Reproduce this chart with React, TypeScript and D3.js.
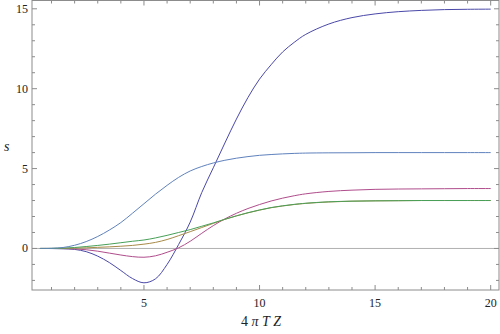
import React from "react";
import * as d3 from "d3";

const xs = [0.5, 1, 1.5, 2, 2.5, 3, 3.5, 4, 4.5, 5, 5.5, 6, 6.5, 7, 7.5, 8, 8.5, 9, 9.5, 10, 10.5, 11, 11.5, 12, 13, 14, 15, 16, 17, 18, 19, 20];

const darkBlue = [0, -0.005, -0.02, -0.06, -0.2, -0.48, -0.88, -1.38, -1.88, -2.15, -1.9, -1.0, 0.25, 1.65, 3.5, 5.05, 6.6, 8.1, 9.45, 10.6, 11.5, 12.3, 12.9, 13.4, 14.05, 14.45, 14.68, 14.82, 14.9, 14.95, 14.97, 14.98];
const magenta = [0, -0.002, -0.008, -0.025, -0.08, -0.17, -0.29, -0.41, -0.51, -0.55, -0.46, -0.24, 0.04, 0.45, 0.95, 1.43, 1.85, 2.2, 2.5, 2.75, 2.97, 3.15, 3.3, 3.42, 3.57, 3.65, 3.7, 3.72, 3.73, 3.74, 3.75, 3.75];
const yellow = [0, 0.002, 0.008, 0.02, 0.04, 0.07, 0.1, 0.14, 0.19, 0.27, 0.38, 0.56, 0.8, 1.05, 1.31, 1.57, 1.82, 2.04, 2.23, 2.4, 2.55, 2.66, 2.75, 2.82, 2.91, 2.96, 2.98, 2.99, 3.0, 3.0, 3.0, 3.0];
const green = [0, 0.005, 0.02, 0.06, 0.12, 0.19, 0.27, 0.36, 0.45, 0.53, 0.66, 0.82, 1.0, 1.18, 1.39, 1.6, 1.83, 2.04, 2.24, 2.41, 2.56, 2.67, 2.76, 2.83, 2.92, 2.96, 2.98, 2.99, 3.0, 3.0, 3.0, 3.0];
const steelBlue = [0, 0.01, 0.06, 0.2, 0.43, 0.75, 1.15, 1.62, 2.2, 2.8, 3.4, 3.95, 4.45, 4.85, 5.13, 5.35, 5.52, 5.65, 5.75, 5.83, 5.88, 5.92, 5.95, 5.97, 5.985, 5.99, 6.0, 6.0, 6.0, 6.0, 6.0, 6.0];

const seriesList = [
  { name: "a", values: darkBlue, color: "#4a48a8" },
  { name: "b", values: magenta, color: "#b04d8c" },
  { name: "c", values: yellow, color: "#a88a48" },
  { name: "d", values: green, color: "#48a058" },
  { name: "e", values: steelBlue, color: "#5f82bd" },
];

const xMajor = [5, 10, 15, 20];
const xMinor = [1, 2, 3, 4, 6, 7, 8, 9, 11, 12, 13, 14, 16, 17, 18, 19];
const yMajor = [0, 5, 10, 15];
const yMinor = [-2, -1, 1, 2, 3, 4, 6, 7, 8, 9, 11, 12, 13, 14];

const W = 500;
const H = 334;
const L = 32, R = 499, T = 0.5, B = 290;

export default function App() {
  const x = d3.scaleLinear().domain([0.156, 20.36]).range([L, R]);
  const y = d3.scaleLinear().domain([-2.6, 15.52]).range([B, T]);
  const line = d3
    .line<number>()
    .x((_, i) => x(xs[i]))
    .y((d) => y(d))
    .curve(d3.curveCatmullRom.alpha(0.5));
  const frame = "#8c8c8c";
  const font = "'Liberation Serif', 'DejaVu Serif', serif";
  return (
    <svg width={W} height={H} style={{ position: "absolute", left: 0, top: 0, background: "#fff" }}>
      <line x1={L} x2={R} y1={y(0)} y2={y(0)} stroke="#b0b0b0" strokeWidth={1} />
      {seriesList.map((s) => (
        <path key={s.name} d={line(s.values) || ""} fill="none" stroke={s.color} strokeWidth={1} />
      ))}
      <rect x={L} y={T} width={R - L} height={B - T} fill="none" stroke={frame} strokeWidth={1} />
      {xMajor.map((v) => (
        <g key={"xM" + v}>
          <line x1={x(v)} x2={x(v)} y1={B} y2={B - 5} stroke={frame} />
          <line x1={x(v)} x2={x(v)} y1={T} y2={T + 5} stroke={frame} />
          <text x={x(v)} y={B + 17} textAnchor="middle" fontFamily={font} fontSize={12} fill="#222">{v}</text>
        </g>
      ))}
      {xMinor.map((v) => (
        <g key={"xm" + v}>
          <line x1={x(v)} x2={x(v)} y1={B} y2={B - 3} stroke={frame} />
          <line x1={x(v)} x2={x(v)} y1={T} y2={T + 3} stroke={frame} />
        </g>
      ))}
      {yMajor.map((v) => (
        <g key={"yM" + v}>
          <line x1={L} x2={L + 5} y1={y(v)} y2={y(v)} stroke={frame} />
          <line x1={R} x2={R - 5} y1={y(v)} y2={y(v)} stroke={frame} />
          <text x={L - 4} y={y(v) + 4} textAnchor="end" fontFamily={font} fontSize={12} fill="#222">{v}</text>
        </g>
      ))}
      {yMinor.map((v) => (
        <g key={"ym" + v}>
          <line x1={L} x2={L + 3} y1={y(v)} y2={y(v)} stroke={frame} />
          <line x1={R} x2={R - 3} y1={y(v)} y2={y(v)} stroke={frame} />
        </g>
      ))}
      <text x={4} y={151} fontFamily={font} fontSize={14} fontStyle="italic" fill="#222">s</text>
      <text x={261} y={326} textAnchor="middle" fontFamily={font} fontSize={14} fill="#222">
        <tspan>4 </tspan>
        <tspan fontStyle="italic">π T Z</tspan>
      </text>
    </svg>
  );
}
